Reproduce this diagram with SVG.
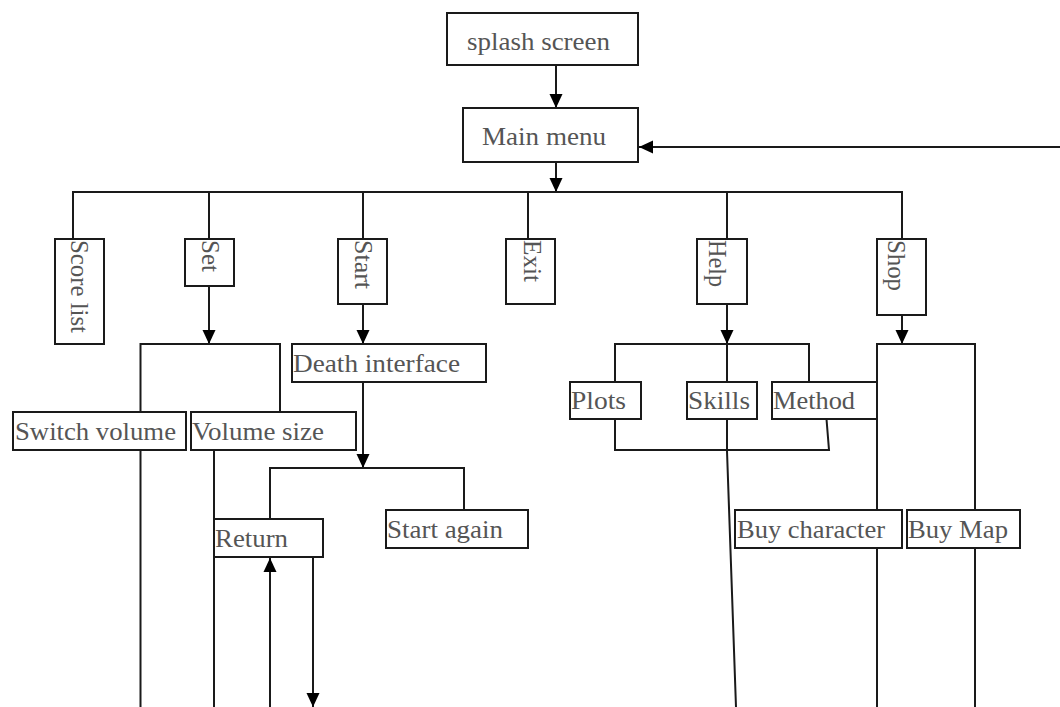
<svg xmlns="http://www.w3.org/2000/svg" width="1060" height="707" viewBox="0 0 1060 707">
<defs>
<style>
.box{fill:#fff;stroke:#1a1a1a;stroke-width:2}
.t{font-family:"Liberation Serif","Times New Roman",serif;font-size:26px;fill:#555}
.c{fill:none;stroke:#1a1a1a;stroke-width:2}
</style>
<marker id="ah" markerUnits="userSpaceOnUse" markerWidth="14" markerHeight="14" viewBox="0 0 14 14" refX="14" refY="7" orient="auto">
<path d="M0 0.5 L14 7 L0 13.5 Z" fill="#000"/>
</marker>
</defs>
<rect width="1060" height="707" fill="#fff"/>
<g id="connectors">
<path class="c" d="M556 65 V108" marker-end="url(#ah)"/>
<path class="c" d="M1060 147 H639" marker-end="url(#ah)"/>
<path class="c" d="M556 162 V192" marker-end="url(#ah)"/>
<path class="c" d="M73 239 V192 H902 V239 M209 192 V239 M363 192 V239 M528 192 V239 M727 192 V239"/>
<path class="c" d="M209 286 V344" marker-end="url(#ah)"/>
<path class="c" d="M140.5 412 V344 H280 V412"/>
<path class="c" d="M140.5 450 V707 M214 450 V707"/>
<path class="c" d="M363 304 V344" marker-end="url(#ah)"/>
<path class="c" d="M363 382 V468" marker-end="url(#ah)"/>
<path class="c" d="M270 519 V468 H464 V510"/>
<path class="c" d="M270 707 V558" marker-end="url(#ah)"/>
<path class="c" d="M313 557 V707" marker-end="url(#ah)"/>
<path class="c" d="M727 304 V344" marker-end="url(#ah)"/>
<path class="c" d="M615 382 V344 H809 V382 M727 344 V382"/>
<path class="c" d="M615 419 V450 H829 L826.5 419"/>
<path class="c" d="M727 419 V451 L736 707"/>
<path class="c" d="M902 315 V344" marker-end="url(#ah)"/>
<path class="c" d="M877 510 V344 H975 V510"/>
<path class="c" d="M877 548 V707 M975 548 V707"/>
</g>
<g id="splash"><rect class="box" x="447" y="13" width="191" height="52"/><text class="t" x="467" y="50" textLength="143" lengthAdjust="spacingAndGlyphs">splash screen</text></g>
<g id="mainmenu"><rect class="box" x="463" y="108" width="175" height="54"/><text class="t" x="482" y="145" textLength="124" lengthAdjust="spacingAndGlyphs">Main menu</text></g>
<g id="scorelist"><rect class="box" x="55" y="239" width="49" height="105"/><text class="t" transform="translate(71 240) rotate(90)" textLength="93" lengthAdjust="spacingAndGlyphs">Score list</text></g>
<g id="set"><rect class="box" x="185" y="239" width="49" height="47"/><text class="t" transform="translate(202 240) rotate(90)" textLength="32" lengthAdjust="spacingAndGlyphs">Set</text></g>
<g id="start"><rect class="box" x="338" y="239" width="49" height="65"/><text class="t" transform="translate(355 240) rotate(90)" textLength="49" lengthAdjust="spacingAndGlyphs">Start</text></g>
<g id="exit"><rect class="box" x="506" y="239" width="49" height="65"/><text class="t" transform="translate(524 240) rotate(90)" textLength="42" lengthAdjust="spacingAndGlyphs">Exit</text></g>
<g id="help"><rect class="box" x="697" y="239" width="50" height="65"/><text class="t" transform="translate(709 240) rotate(90)" textLength="47" lengthAdjust="spacingAndGlyphs">Help</text></g>
<g id="shop"><rect class="box" x="877" y="239" width="49" height="76"/><text class="t" transform="translate(888 240) rotate(90)" textLength="51" lengthAdjust="spacingAndGlyphs">Shop</text></g>
<g id="death"><rect class="box" x="292" y="344" width="194" height="38"/><text class="t" x="293" y="372" textLength="167" lengthAdjust="spacingAndGlyphs">Death interface</text></g>
<g id="switchvolume"><rect class="box" x="13" y="412" width="173" height="38"/><text class="t" x="15" y="440" textLength="161" lengthAdjust="spacingAndGlyphs">Switch volume</text></g>
<g id="volumesize"><rect class="box" x="191" y="412" width="165" height="38"/><text class="t" x="192" y="440" textLength="132" lengthAdjust="spacingAndGlyphs">Volume size</text></g>
<g id="return"><rect class="box" x="214" y="519" width="109" height="38"/><text class="t" x="215" y="547" textLength="73" lengthAdjust="spacingAndGlyphs">Return</text></g>
<g id="startagain"><rect class="box" x="386" y="510" width="142" height="38"/><text class="t" x="387" y="538" textLength="116" lengthAdjust="spacingAndGlyphs">Start again</text></g>
<g id="plots"><rect class="box" x="570" y="382" width="71" height="37"/><text class="t" x="571" y="409" textLength="55" lengthAdjust="spacingAndGlyphs">Plots</text></g>
<g id="skills"><rect class="box" x="687" y="382" width="70" height="37"/><text class="t" x="688" y="409" textLength="62" lengthAdjust="spacingAndGlyphs">Skills</text></g>
<g id="method"><rect class="box" x="772" y="382" width="105" height="37"/><text class="t" x="773" y="409" textLength="82" lengthAdjust="spacingAndGlyphs">Method</text></g>
<g id="buycharacter"><rect class="box" x="735" y="510" width="167" height="38"/><text class="t" x="737" y="538" textLength="148" lengthAdjust="spacingAndGlyphs">Buy character</text></g>
<g id="buymap"><rect class="box" x="907" y="510" width="113" height="38"/><text class="t" x="908" y="538" textLength="100" lengthAdjust="spacingAndGlyphs">Buy Map</text></g>
</svg>
